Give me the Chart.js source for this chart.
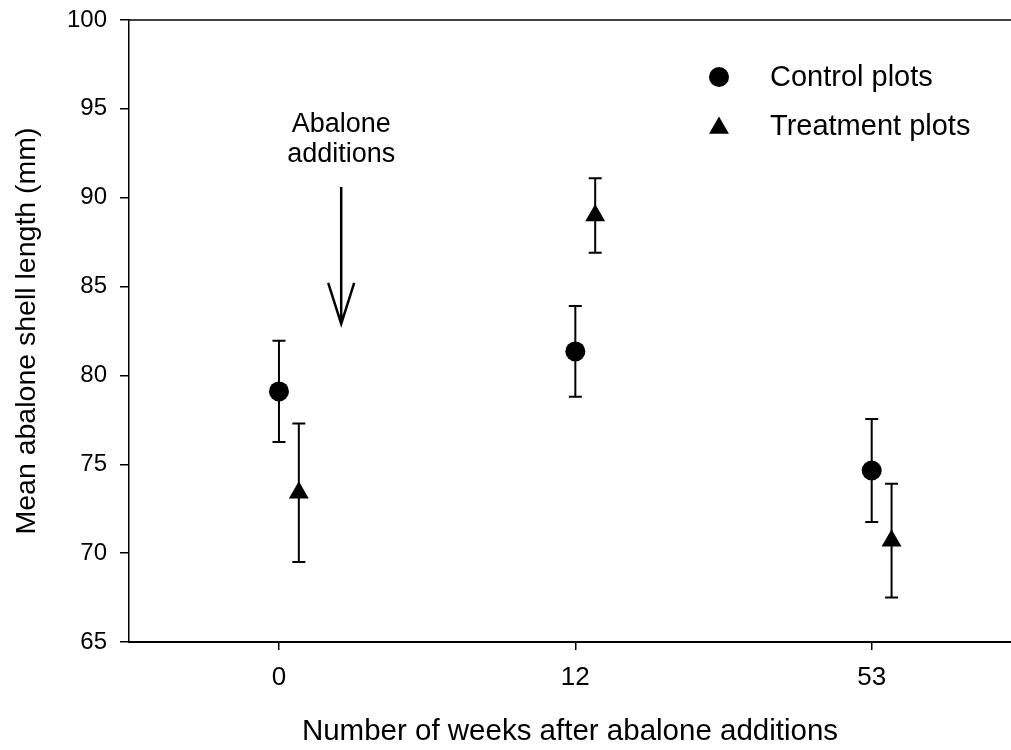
<!DOCTYPE html>
<html>
<head>
<meta charset="utf-8">
<script src="https://cdn.jsdelivr.net/npm/chart.js@4.4.1/dist/chart.umd.min.js"></script>
<style>
  html, body { margin: 0; padding: 0; background: #fff; overflow: hidden; }
  #wrap { width: 1011px; height: 750px; position: relative; }
  canvas { display: block; }
</style>
</head>
<body>
<div id="wrap"><canvas id="chart"></canvas></div>
<script>
// data
const weeks = ["0", "12", "53"];
const controlMean = [79.1, 81.35, 74.65];
const controlErr = [2.85, 2.55, 2.9];
const treatmentMean = [73.4, 89.0, 70.7];
const treatmentErr = [3.9, 2.1, 3.2];
const yTicks = [65, 70, 75, 80, 85, 90, 95, 100];
const seriesNames = ["Control plots", "Treatment plots"];
const noteLines = ["Abalone", "additions"];

const FONT = "'Liberation Sans', Arial, sans-serif";
Chart.defaults.font.family = FONT;
Chart.defaults.color = "#000";

// treatment points sit a little right of each week
const SHIFT = 0.067;

const errorBars = {
  id: "errorBars",
  beforeDatasetsDraw(chart) {
    const { ctx, scales: { x, y } } = chart;
    ctx.save();
    ctx.strokeStyle = "#000";
    ctx.lineWidth = 2;
    chart.data.datasets.forEach((ds) => {
      ds.data.forEach((pt, i) => {
        const px = x.getPixelForValue(pt.x);
        const top = y.getPixelForValue(pt.y + ds.errors[i]);
        const bot = y.getPixelForValue(pt.y - ds.errors[i]);
        ctx.beginPath();
        ctx.moveTo(px, top);
        ctx.lineTo(px, bot);
        ctx.moveTo(px - 6.5, top);
        ctx.lineTo(px + 6.5, top);
        ctx.moveTo(px - 6.5, bot);
        ctx.lineTo(px + 6.5, bot);
        ctx.stroke();
      });
    });
    ctx.restore();
  }
};

function triangle(ctx, cx, cy, r) {
  ctx.beginPath();
  ctx.moveTo(cx, cy - r);
  ctx.lineTo(cx + r * 0.866, cy + r * 0.5);
  ctx.lineTo(cx - r * 0.866, cy + r * 0.5);
  ctx.closePath();
  ctx.fill();
}

const extras = {
  id: "extras",
  afterDraw(chart) {
    const { ctx, chartArea: a, scales: { x, y } } = chart;
    ctx.save();
    ctx.strokeStyle = "#000";
    ctx.fillStyle = "#000";

    // top frame line
    ctx.lineWidth = 1.5;
    ctx.beginPath();
    ctx.moveTo(a.left, a.top);
    ctx.lineTo(a.right, a.top);
    ctx.stroke();

    // legend
    const lx = a.left + 590;
    ctx.beginPath();
    ctx.arc(lx, a.top + 57, 10, 0, Math.PI * 2);
    ctx.fill();
    triangle(ctx, lx, a.top + 108, 11.5);
    ctx.font = "29px " + FONT;
    ctx.textBaseline = "middle";
    ctx.textAlign = "left";
    ctx.fillText(seriesNames[0], lx + 51, a.top + 58);
    ctx.fillText(seriesNames[1], lx + 51, a.top + 107);

    // arrow annotation
    const ax = x.getPixelForValue(0.21);
    ctx.font = "27px " + FONT;
    ctx.textAlign = "center";
    ctx.textBaseline = "alphabetic";
    ctx.fillText(noteLines[0], ax, y.getPixelForValue(93.7));
    ctx.fillText(noteLines[1], ax, y.getPixelForValue(92.0));
    const tail = y.getPixelForValue(90.6);
    const tip = y.getPixelForValue(82.9);
    ctx.lineWidth = 2.5;
    ctx.beginPath();
    ctx.moveTo(ax, tail);
    ctx.lineTo(ax, tip);
    ctx.moveTo(ax - 13, tip - 41);
    ctx.lineTo(ax, tip);
    ctx.lineTo(ax + 13, tip - 41);
    ctx.stroke();
    ctx.restore();
  }
};

new Chart(document.getElementById("chart"), {
  type: "scatter",
  data: {
    datasets: [
      {
        label: seriesNames[0],
        data: controlMean.map((v, i) => ({ x: i, y: v })),
        errors: controlErr,
        pointStyle: "circle",
        pointRadius: 10,
        backgroundColor: "#000",
        borderWidth: 0
      },
      {
        label: seriesNames[1],
        data: treatmentMean.map((v, i) => ({ x: i + SHIFT, y: v })),
        errors: treatmentErr,
        pointStyle: "triangle",
        pointRadius: 11.5,
        backgroundColor: "#000",
        borderWidth: 0
      }
    ]
  },
  options: {
    responsive: true,
    maintainAspectRatio: false,
    animation: false,
    layout: { autoPadding: false, padding: { top: 20, left: 0, right: 0, bottom: 0 } },
    plugins: {
      legend: { display: false },
      tooltip: { enabled: false }
    },
    scales: {
      x: {
        type: "linear",
        min: -0.506,
        max: 2.47,
        afterBuildTicks: (s) => { s.ticks = weeks.map((_, i) => ({ value: i })); },
        afterFit: (s) => {
          s.height = 108;
          s.paddingLeft = 0;
          s.paddingRight = 0;
        },
        ticks: {
          callback: (v) => weeks[v],
          font: { size: 26 },
          padding: 12,
          maxRotation: 0
        },
        grid: { drawOnChartArea: false, tickLength: 8, color: "#000", lineWidth: 1.5 },
        border: { color: "#000", width: 2 },
        title: {
          display: true,
          text: "Number of weeks after abalone additions",
          font: { size: 29.5 },
          padding: { top: 0, bottom: 0 }
        }
      },
      y: {
        min: 65,
        max: 100,
        afterBuildTicks: (s) => { s.ticks = yTicks.map((v) => ({ value: v })); },
        afterFit: (s) => {
          s.width = 129;
          s.paddingTop = 0;
          s.paddingBottom = 0;
        },
        ticks: { font: { size: 24 }, padding: 13 },
        grid: { drawOnChartArea: false, tickLength: 9, color: "#000", lineWidth: 1.5 },
        border: { color: "#000", width: 1.5 },
        title: {
          display: true,
          text: "Mean abalone shell length (mm)",
          font: { size: 28.5 },
          padding: { top: 10, bottom: 0 }
        }
      }
    }
  },
  plugins: [errorBars, extras]
});
</script>
</body>
</html>
